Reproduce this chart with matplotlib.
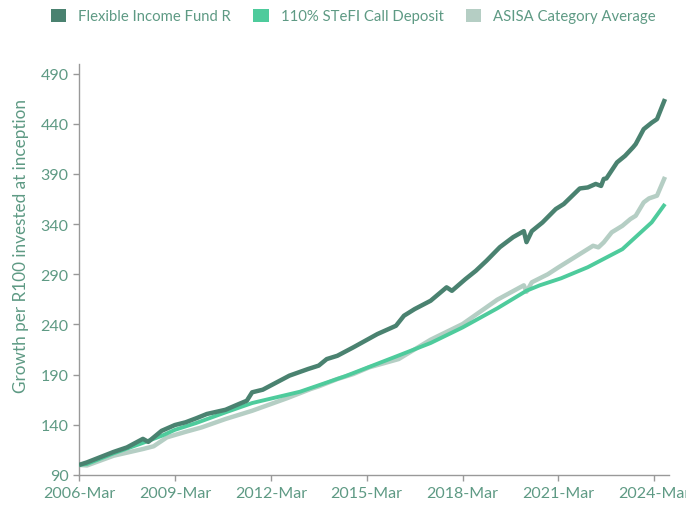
import matplotlib
matplotlib.use("Agg")
import matplotlib.pyplot as plt
from matplotlib.patches import Patch

# months since 2006-Mar and growth of R100
fund_m = [0, 3, 13, 18, 24, 26, 31, 36, 40, 44, 48, 55, 60, 63, 65, 69, 73, 79, 86, 90,
          93, 97, 103, 109, 112, 119, 122, 126, 132, 138, 140, 145, 149, 153, 158, 163,
          167, 168, 170, 174, 179, 182, 188, 191, 194, 196, 197, 198, 202, 205, 208, 209,
          212, 215, 217, 220]
fund_v = [100, 102.6, 113, 117.5, 126, 123, 134, 139.8, 142.5, 146.5, 150.8, 155, 160.7,
          164, 172.4, 175, 180.6, 189, 195.6, 199, 205.5, 208.8, 217.2, 226, 230.4, 238.7,
          248.7, 255.3, 263.6, 277, 273.5, 285, 293.5, 303.5, 317, 327, 333, 322, 333,
          341.6, 355, 360, 375.5, 376.5, 380, 378, 385, 385.5, 401.5, 408, 416.5, 419.7,
          434.6, 441, 444.6, 464.6]

stefi_m = [0, 3, 13, 24, 31, 36, 44, 55, 65, 83, 100, 118, 132, 144, 157, 168, 173, 181,
           191, 204, 215, 220]
stefi_v = [100, 101, 111.6, 122, 129, 135, 141.8, 152.4, 161.7, 173, 188.5, 207, 221.5,
           237, 256, 273.6, 279, 286, 297, 315, 341.7, 360]

asisa_m = [0, 3, 13, 24, 28, 33, 40, 46, 55, 65, 78, 87, 90, 97, 103, 109, 120, 132, 144,
           157, 167, 168, 170, 176, 180, 186, 193, 195, 197, 200, 204, 207, 209, 212, 214,
           217, 220]
asisa_v = [100, 99.5, 109.2, 115.9, 118.6, 127.5, 133, 137.4, 145.8, 154, 166.4, 175.7,
           178.3, 185.6, 190.6, 197.3, 205.5, 224.8, 240.4, 264.6, 279, 272.6, 282, 290,
           296.9, 306.8, 318.4, 316.8, 321.8, 331.8, 338.3, 345, 348.3, 361.6, 365.6,
           368.3, 387]

names = ["Flexible Income Fund R", "110% STeFI Call Deposit", "ASISA Category Average"]
colors = ["#4a8270", "#4ecb9c", "#b5cec4"]

xticks = list(range(0, 217, 36))
xlabels = ["2006-Mar", "2009-Mar", "2012-Mar", "2015-Mar", "2018-Mar", "2021-Mar", "2024-Mar"]
yticks = list(range(90, 491, 50))

TXT = "#5e9a84"
plt.rcParams["font.family"] = ["Lato", "DejaVu Sans"]

fig = plt.figure(figsize=(6.86, 5.06), dpi=100)
ax = fig.add_axes([79 / 686, 1 - 476 / 506, 590 / 686, 411 / 506])

ax.plot(asisa_m, asisa_v, color=colors[2], lw=3.2, solid_capstyle="butt", zorder=2)
ax.plot(stefi_m, stefi_v, color=colors[1], lw=2.8, solid_capstyle="butt", zorder=3)
ax.plot(fund_m, fund_v, color=colors[0], lw=3.2, solid_capstyle="butt", zorder=4)

ax.set_xlim(0, 221.5)
ax.set_ylim(90, 499.5)
ax.set_xticks(xticks)
ax.set_xticklabels(xlabels)
ax.set_yticks(yticks)
ax.tick_params(axis="both", colors="#999999", labelcolor=TXT, labelsize=11.5,
               length=4, width=1)
ax.tick_params(axis="x", pad=4)
for s in ["top", "right"]:
    ax.spines[s].set_visible(False)
for s in ["left", "bottom"]:
    ax.spines[s].set_color("#999999")
    ax.spines[s].set_linewidth(1)

ax.set_ylabel("Growth per R100 invested at inception", color=TXT, fontsize=12.3)
ax.yaxis.set_label_coords(-0.085, 0.56)

handles = [Patch(facecolor=c, edgecolor="none") for c in colors]
fig.legend(handles, names, loc="center", bbox_to_anchor=(0.515, 1 - 17 / 506), ncol=3,
           frameon=False, fontsize=10.7, handlelength=1.05, handleheight=1.05,
           handletextpad=0.8, columnspacing=1.5, labelcolor=TXT)

fig.savefig("out.png", dpi=100)
